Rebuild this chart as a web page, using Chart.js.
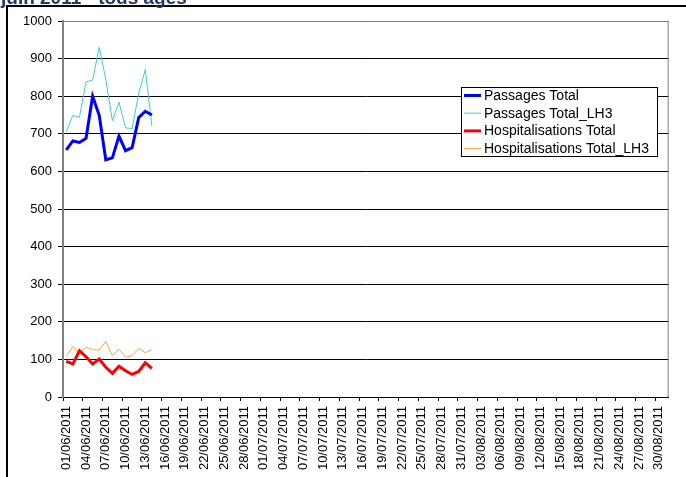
<!DOCTYPE html>
<html>
<head>
<meta charset="utf-8">
<script src="https://cdn.jsdelivr.net/npm/chart.js@4"></script>
<style>
  html, body { margin: 0; padding: 0; background: #fff; overflow: hidden; }
  #wrap { position: relative; width: 686px; height: 477px; }
</style>
</head>
<body>
<div id="wrap"><canvas id="chart" width="686" height="477"></canvas></div>
<script>
// chart data
const titleText = 'juin 2011 - tous âges';
const months = [['06', 30], ['07', 31], ['08', 31]];
const days = [];
months.forEach(([m, n]) => {
  for (let d = 1; d <= n; d++) days.push(String(d).padStart(2, '0') + '/' + m + '/2011');
});

const passagesTotal = [657, 681, 677, 688, 800, 749, 631, 636, 694, 655, 663, 743, 760, 750];
const passagesLH3 = [706, 749, 744, 838, 843, 930, 845, 735, 784, 716, 714, 807, 871, 721];
const hospTotal = [95, 88, 123, 107, 88, 101, 79, 63, 82, 70, 60, 68, 91, 76];
const hospLH3 = [108, 134, 114, 132, 126, 125, 148, 110, 127, 106, 110, 129, 118, 126];
const yTicks = [0, 100, 200, 300, 400, 500, 600, 700, 800, 900, 1000];

const FONT = '"Liberation Sans", Arial, sans-serif';

// frame, title and the boxed legend
const decor = {
  id: 'decor',
  beforeDraw(chart) {
    const ctx = chart.ctx;
    ctx.save();
    ctx.fillStyle = '#000';
    ctx.fillRect(6, 5, 2, 477);
    ctx.fillRect(6, 5, 686, 2);
    ctx.fillStyle = '#1F3864';
    ctx.font = 'bold 19px ' + FONT;
    ctx.textBaseline = 'alphabetic';
    ctx.fillText(titleText, 1, 4);
    ctx.restore();
  },
  afterDatasetsDraw(chart) {
    const ctx = chart.ctx;
    const a = chart.chartArea;
    ctx.save();
    ctx.strokeStyle = '#808080';
    ctx.lineWidth = 1;
    ctx.beginPath();
    ctx.moveTo(a.left, a.top + 0.5);
    ctx.lineTo(a.right - 0.5, a.top + 0.5);
    ctx.lineTo(a.right - 0.5, a.bottom);
    ctx.stroke();

    const bx = 461, by = 87, bw = 196, bh = 69;
    ctx.fillStyle = '#fff';
    ctx.fillRect(bx, by, bw, bh);
    ctx.strokeStyle = '#000';
    ctx.strokeRect(bx + 0.5, by + 0.5, bw, bh);
    ctx.font = '14px ' + FONT;
    ctx.textBaseline = 'middle';
    chart.data.datasets.forEach((ds, i) => {
      const y = by + 8.5 + i * 17.7;
      ctx.strokeStyle = ds.borderColor;
      ctx.lineWidth = ds.borderWidth;
      ctx.beginPath();
      ctx.moveTo(bx + 3, y);
      ctx.lineTo(bx + 20, y);
      ctx.stroke();
      ctx.fillStyle = '#000';
      ctx.fillText(ds.label, bx + 23, y + 0.5);
    });
    ctx.restore();
  }
};

new Chart(document.getElementById('chart'), {
  type: 'line',
  data: {
    labels: days,
    datasets: [
      { label: 'Passages Total', data: passagesTotal, borderColor: '#0000FF', borderWidth: 3 },
      { label: 'Passages Total_LH3', data: passagesLH3, borderColor: '#3CCFCF', borderWidth: 1 },
      { label: 'Hospitalisations Total', data: hospTotal, borderColor: '#FF0000', borderWidth: 3 },
      { label: 'Hospitalisations Total_LH3', data: hospLH3, borderColor: '#FFA531', borderWidth: 1 }
    ]
  },
  options: {
    responsive: false,
    animation: false,
    layout: { padding: { left: 0, right: 10, top: 21, bottom: 0 } },
    elements: { point: { radius: 0 }, line: { tension: 0 } },
    plugins: { legend: { display: false }, tooltip: { enabled: false } },
    scales: {
      x: {
        offset: true,
        afterFit: s => { s.height = 80; },
        grid: {
          offset: true, drawOnChartArea: false, drawTicks: true, tickLength: 4,
          color: c => (c.index % 3 === 0 ? '#000' : 'rgba(0,0,0,0)')
        },
        border: { color: '#000', width: 1 },
        ticks: {
          autoSkip: false, minRotation: 90, maxRotation: 90, padding: 5,
          color: '#000', font: { family: FONT, size: 13 },
          callback: (v, i) => (i % 3 === 0 ? days[i] : '')
        }
      },
      y: {
        min: 0, max: 1000,
        afterFit: s => { s.width = 63; },
        afterBuildTicks: s => { s.ticks = yTicks.map(v => ({ value: v })); },
        grid: { color: '#000', lineWidth: 1, tickLength: 5 },
        border: { color: '#808080', width: 2 },
        ticks: {
          padding: 6, color: '#000', font: { family: FONT, size: 13 },
          callback: v => String(v)
        }
      }
    }
  },
  plugins: [decor]
});
</script>
</body>
</html>
